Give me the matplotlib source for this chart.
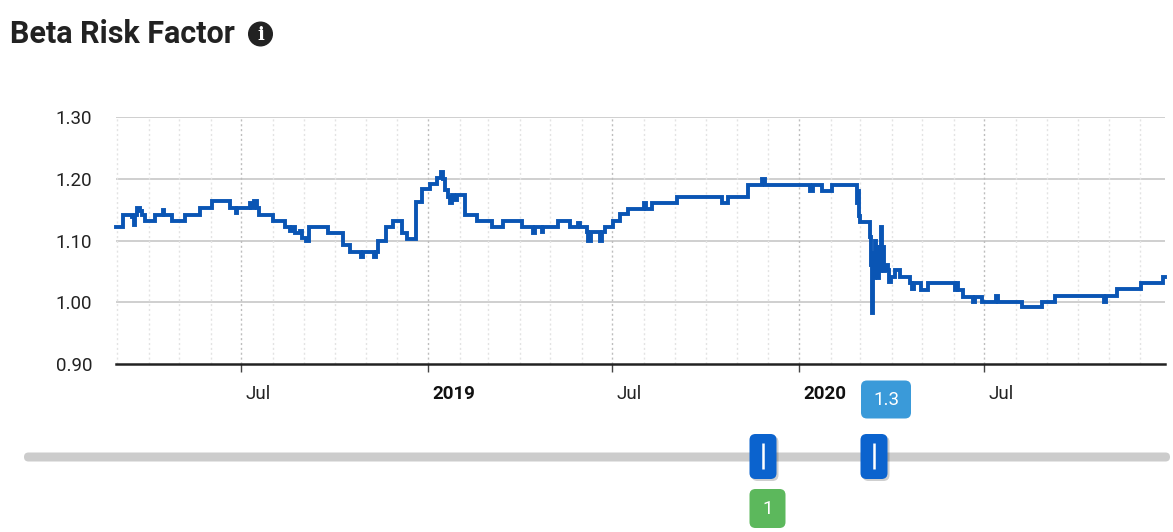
import matplotlib
matplotlib.use("Agg")
import matplotlib.pyplot as plt
import matplotlib.dates as mdates
import matplotlib.transforms as mtransforms
from matplotlib.patches import FancyBboxPatch, Circle
import pandas as pd

plt.rcParams['font.family'] = ['Roboto', 'DejaVu Sans']

title = "Beta Risk Factor"
dates = [
    "2018-02-28", "2018-03-07", "2018-03-16", "2018-03-18", "2018-03-19", "2018-03-21",
    "2018-03-24", "2018-03-26", "2018-03-29", "2018-04-07", "2018-04-15", "2018-04-16",
    "2018-04-24", "2018-05-07", "2018-05-22", "2018-06-02", "2018-06-20", "2018-06-26",
    "2018-06-27", "2018-07-10", "2018-07-11", "2018-07-14", "2018-07-17", "2018-07-19",
    "2018-08-01", "2018-08-13", "2018-08-18", "2018-08-20", "2018-08-23", "2018-08-28",
    "2018-08-30", "2018-09-03", "2018-09-06", "2018-09-25", "2018-10-09", "2018-10-16",
    "2018-10-27", "2018-10-29", "2018-11-09", "2018-11-11", "2018-11-13", "2018-11-21",
    "2018-11-28", "2018-12-06", "2018-12-11", "2018-12-20", "2018-12-26",
    "2019-01-03", "2019-01-10", "2019-01-14", "2019-01-16", "2019-01-18", "2019-01-21",
    "2019-01-23", "2019-01-25", "2019-01-27", "2019-01-29", "2019-02-06", "2019-02-18",
    "2019-03-05", "2019-03-16", "2019-04-03", "2019-04-14", "2019-04-16", "2019-04-23",
    "2019-04-24", "2019-05-09", "2019-05-21", "2019-05-29", "2019-05-30", "2019-06-06",
    "2019-06-07", "2019-06-10", "2019-06-19", "2019-06-21", "2019-06-24", "2019-07-02",
    "2019-07-09", "2019-07-17", "2019-08-01", "2019-08-03", "2019-08-09", "2019-09-03",
    "2019-10-17", "2019-10-23", "2019-11-12", "2019-11-26", "2019-11-28",
    "2020-01-12", "2020-01-15", "2020-01-24", "2020-02-02", "2020-02-27", "2020-02-28",
    "2020-02-29", "2020-03-01", "2020-03-11", "2020-03-12", "2020-03-13", "2020-03-14",
    "2020-03-15", "2020-03-16", "2020-03-17", "2020-03-18", "2020-03-19", "2020-03-20",
    "2020-03-21", "2020-03-22", "2020-03-23", "2020-03-24", "2020-03-25", "2020-03-26",
    "2020-03-28", "2020-03-29", "2020-03-31", "2020-04-04", "2020-04-09", "2020-04-19",
    "2020-04-21", "2020-04-23", "2020-04-30", "2020-05-07", "2020-06-02", "2020-06-04",
    "2020-06-05", "2020-06-10", "2020-06-20", "2020-06-22", "2020-06-29", "2020-07-13",
    "2020-07-15", "2020-08-07", "2020-08-27", "2020-09-09", "2020-10-27", "2020-10-29",
    "2020-11-09", "2020-12-02", "2020-12-24", "2020-12-26",
]
betas = [
    1.122, 1.141, 1.138, 1.125, 1.141, 1.153,
    1.148, 1.141, 1.131, 1.141, 1.149, 1.141,
    1.131, 1.141, 1.152, 1.164, 1.152, 1.144,
    1.152, 1.160, 1.152, 1.164, 1.152, 1.141,
    1.131, 1.122, 1.116, 1.122, 1.112, 1.116,
    1.104, 1.100, 1.122, 1.112, 1.093, 1.082,
    1.073, 1.082, 1.073, 1.082, 1.100, 1.122,
    1.131, 1.112, 1.102, 1.163, 1.183,
    1.191, 1.201, 1.211, 1.200, 1.182, 1.170,
    1.160, 1.174, 1.165, 1.174, 1.141, 1.131,
    1.122, 1.131, 1.122, 1.112, 1.122, 1.113,
    1.122, 1.131, 1.122, 1.128, 1.122, 1.113,
    1.100, 1.113, 1.100, 1.113, 1.122, 1.131,
    1.143, 1.151, 1.161, 1.151, 1.161, 1.171,
    1.161, 1.171, 1.190, 1.200, 1.190,
    1.180, 1.190, 1.180, 1.190, 1.160, 1.180,
    1.140, 1.130, 1.105, 1.060, 0.983, 1.080,
    1.040, 1.100, 1.050, 1.090, 1.040, 1.090,
    1.050, 1.122, 1.060, 1.090, 1.050, 1.060,
    1.052, 1.033, 1.041, 1.052, 1.041, 1.031,
    1.021, 1.031, 1.020, 1.031, 1.020, 1.031,
    1.020, 1.009, 1.000, 1.009, 1.000, 1.010,
    1.000, 0.992, 1.000, 1.010, 1.000, 1.010,
    1.021, 1.031, 1.041, 1.041,
]
y_ticks = [0.90, 1.00, 1.10, 1.20, 1.30]
x_range = ["2018-02-28", "2020-12-26"]
slider_low_label = "1"
slider_high_label = "1.3"

W, H = 1173, 532
fig = plt.figure(figsize=(W / 100, H / 100), dpi=100)
ax = fig.add_axes([116 / W, (H - 364) / H, (1165 - 116) / W, (364 - 117) / H])

x = pd.to_datetime(dates)
ax.plot(x, betas, drawstyle='steps-post', color='#0a55b4', lw=2.8,
        solid_joinstyle='miter', zorder=5, clip_on=False)

ax.set_xlim(pd.Timestamp(x_range[0]), pd.Timestamp(x_range[1]))
ax.set_ylim(y_ticks[0], y_ticks[-1])
ax.set_yticks(y_ticks)
ax.set_yticklabels([f"{v:.2f}" for v in y_ticks])

# grid
for v in y_ticks[1:]:
    ax.axhline(v, color='#cccccc', lw=1.3, zorder=1)

ax.xaxis.set_major_locator(mdates.MonthLocator(bymonth=[1, 7]))
ax.xaxis.set_minor_locator(mdates.MonthLocator())

def fmt(d, pos=None):
    dt = mdates.num2date(d)
    return str(dt.year) if dt.month == 1 else dt.strftime('%b')

ax.xaxis.set_major_formatter(plt.FuncFormatter(fmt))
ax.grid(which='minor', axis='x', color='#e3e3e3', lw=1.0, ls=(0, (1.5, 2)), zorder=0)
ax.grid(which='major', axis='x', color='#bdbdbd', lw=1.0, ls=(0, (1.5, 2)), zorder=0)

for s in ['top', 'right', 'left']:
    ax.spines[s].set_visible(False)
ax.spines['bottom'].set_color('#222222')
ax.spines['bottom'].set_linewidth(1.8)

ax.tick_params(axis='y', length=0, pad=17, labelsize=13.5, labelcolor='#222222')
ax.tick_params(axis='x', which='major', length=6, width=1, color='#444444',
               pad=9, labelsize=13.5, labelcolor='#222222')
ax.tick_params(axis='x', which='minor', length=0)

fig.canvas.draw()
offset = mtransforms.ScaledTranslation(4 / 100, 0, fig.dpi_scale_trans)
for lab in ax.get_xticklabels():
    lab.set_horizontalalignment('left')
    lab.set_transform(lab.get_transform() + offset)
    if lab.get_text().isdigit():
        lab.set_fontweight('bold')
        lab.set_color('#111111')

# title and info icon
fig.text(10 / W, 1 - 34 / H, title, fontsize=22, fontweight='bold',
         color='#222222', va='center', ha='left')

ov = fig.add_axes([0, 0, 1, 1], zorder=10)
ov.set_xlim(0, W)
ov.set_ylim(H, 0)
ov.axis('off')
ov.add_patch(Circle((260.5, 34), 11.8, color='#222222'))
ov.text(260.5, 35, 'i', family='DejaVu Serif', fontweight='bold', fontsize=13,
        color='white', ha='center', va='center')

# slider
ov.add_patch(FancyBboxPatch((24, 452.5), 1146, 9, boxstyle='round,pad=0,rounding_size=4.5',
                            fc='#cccccc', ec='none'))
for cx in [763, 874]:
    ov.add_patch(FancyBboxPatch((cx - 13 + 1.5, 434 + 2), 27, 45,
                                boxstyle='round,pad=0,rounding_size=6',
                                fc='#00000030', ec='none'))
    ov.add_patch(FancyBboxPatch((cx - 13.5, 434), 27, 45,
                                boxstyle='round,pad=0,rounding_size=6',
                                fc='#0b63ce', ec='none'))
    ov.plot([cx, cx], [443, 469], color='white', lw=1.8, solid_capstyle='butt')

ov.add_patch(FancyBboxPatch((861, 380.5), 50, 38, boxstyle='round,pad=0,rounding_size=6',
                            fc='#3a9ad9', ec='none'))
ov.text(886, 400, slider_high_label, color='white', fontsize=13.5, ha='center', va='center')
ov.add_patch(FancyBboxPatch((749.5, 489), 36, 39, boxstyle='round,pad=0,rounding_size=6',
                            fc='#5cb85c', ec='none'))
ov.text(767.5, 509, slider_low_label, color='white', fontsize=13.5, ha='center', va='center')

fig.savefig('out.png', dpi=100)
